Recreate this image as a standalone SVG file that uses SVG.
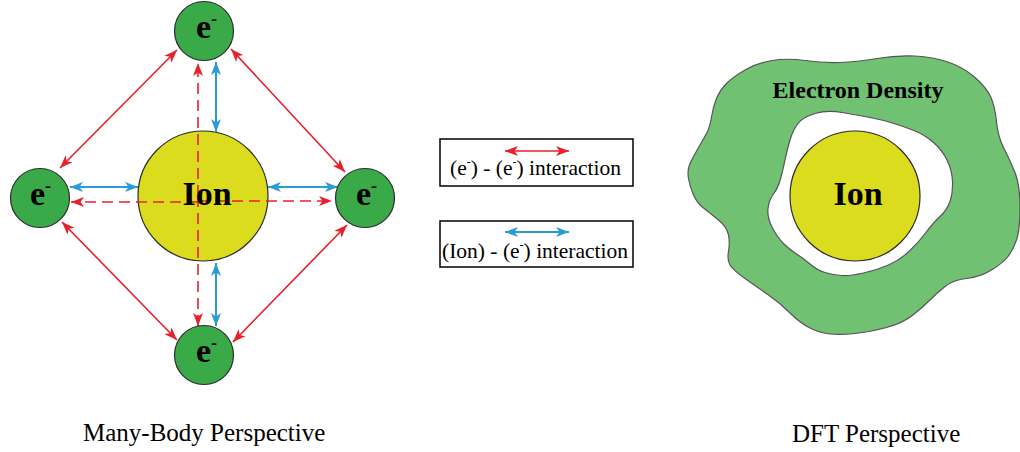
<svg xmlns="http://www.w3.org/2000/svg" width="1020" height="452" viewBox="0 0 1020 452">
<style>
.el{fill:#3aaa48;stroke:#2b2b2b;stroke-width:1.2}
.ion{fill:#dcdc1e;stroke:#2b2b2b;stroke-width:1.2}
.bt{font-family:"Liberation Serif","Times New Roman",serif;font-weight:bold;fill:#000}
.rt{font-family:"Liberation Serif","Times New Roman",serif;fill:#000}
.red{stroke:#e8202a;stroke-width:1.6;fill:none;marker-start:url(#ar);marker-end:url(#ar)}
.redd{stroke:#e8202a;stroke-width:1.6;fill:none;stroke-dasharray:11 6;marker-end:url(#ar)}
.blue{stroke:#2a9ad8;stroke-width:2;fill:none;marker-start:url(#ab);marker-end:url(#ab)}
.box{fill:#fff;stroke:#000;stroke-width:1.5}
</style>
<defs>
<marker id="ar" viewBox="0 0 13 10" refX="13" refY="5" markerWidth="13" markerHeight="10" markerUnits="userSpaceOnUse" orient="auto-start-reverse"><path d="M0,0 L13,5 L0,10 L3.5,5 Z" fill="#e8202a"/></marker>
<marker id="ab" viewBox="0 0 13 10" refX="13" refY="5" markerWidth="13" markerHeight="10" markerUnits="userSpaceOnUse" orient="auto-start-reverse"><path d="M0,0 L13,5 L0,10 L3.5,5 Z" fill="#2a9ad8"/></marker>
</defs>
<rect width="1020" height="452" fill="#fff"/>

<g id="ion-left">
<circle class="ion" cx="203" cy="196" r="65"/>
</g>

<g id="connectors">
<line class="red" x1="177" y1="50" x2="60" y2="168"/>
<line class="red" x1="231" y1="49" x2="345" y2="172"/>
<line class="red" x1="62" y1="222" x2="177" y2="340"/>
<line class="red" x1="347" y1="225" x2="233" y2="342"/>
<line class="redd" x1="198" y1="196" x2="198" y2="63"/>
<line class="redd" x1="198" y1="196" x2="198" y2="326"/>
<line class="redd" x1="198" y1="202" x2="71" y2="202"/>
<line class="redd" x1="198" y1="201" x2="332" y2="201"/>
<line class="blue" x1="216" y1="62" x2="216" y2="132"/>
<line class="blue" x1="216" y1="263" x2="216" y2="326"/>
<line class="blue" x1="70" y1="187" x2="138" y2="187"/>
<line class="blue" x1="268" y1="187" x2="338" y2="187"/>
</g>

<g id="ion-left-label">
<text class="bt" x="207" y="205" font-size="34" text-anchor="middle">Ion</text>
</g>

<g id="e-top">
<circle class="el" cx="204" cy="31" r="29.5"/>
<text class="bt" x="196" y="38" font-size="34">e<tspan font-size="18" dy="-13">-</tspan></text>
</g>
<g id="e-left">
<circle class="el" cx="40" cy="198" r="29.5"/>
<text class="bt" x="30" y="205" font-size="34">e<tspan font-size="18" dy="-13">-</tspan></text>
</g>
<g id="e-right">
<circle class="el" cx="365" cy="198" r="29.5"/>
<text class="bt" x="356" y="205" font-size="34">e<tspan font-size="18" dy="-13">-</tspan></text>
</g>
<g id="e-bottom">
<circle class="el" cx="204" cy="355" r="29.5"/>
<text class="bt" x="196" y="362" font-size="34">e<tspan font-size="18" dy="-13">-</tspan></text>
</g>

<g id="legend-ee">
<rect class="box" x="440" y="139" width="193" height="47"/>
<line class="red" x1="505" y1="151" x2="569" y2="151"/>
<text class="rt" x="450" y="175" font-size="21.5">(e<tspan font-size="12" dy="-9">-</tspan><tspan dy="9">) - (e</tspan><tspan font-size="12" dy="-9">-</tspan><tspan dy="9">) interaction</tspan></text>
</g>
<g id="legend-ie">
<rect class="box" x="440" y="221" width="193" height="46"/>
<line class="blue" x1="505" y1="232" x2="569" y2="232"/>
<text class="rt" x="442" y="258" font-size="21.5">(Ion) - (e<tspan font-size="12" dy="-9">-</tspan><tspan dy="9">) interaction</tspan></text>
</g>

<g id="density">
<path fill="#70c172" stroke="#555" stroke-width="1.2" fill-rule="evenodd" d="M726.5,83.5 Q733,77 745,70 Q757,63 772,60.5 Q787,58 805,60.5 Q823,63 840,62.5 Q857,62 877,58.5 Q897,55 915,56 Q933,57 948,62 Q963,67 975,77.5 Q987,88 991,97.5 Q995,107 996.5,122 Q998,137 1004,148.5 Q1010,160 1015,172.5 Q1020,185 1020,207.5 Q1020,230 1016.5,240 Q1013,250 1008,256.5 Q1003,263 991.5,270 Q980,277 966.5,278.5 Q953,280 945,286.5 Q937,293 930,300 Q923,307 913,315 Q903,323 886.5,327.5 Q870,332 855,333.5 Q840,335 830,334 Q820,333 810,328 Q800,323 790,313 Q780,303 768.5,295 Q757,287 745,278.5 Q733,270 730,265 Q727,260 728.5,251.5 Q730,243 728.5,235 Q727,227 718.5,220 Q710,213 703.5,208 Q697,203 693.5,195 Q690,187 688.5,178.5 Q687,170 690,163.5 Q693,157 698,148.5 Q703,140 706.5,133.5 Q710,127 711.5,117 Q713,107 716.5,98.5 Q720,90 726.5,83.5 Z M798,123.5 Q803,117 815,113.5 Q827,110 842,112.5 Q857,115 870,117.5 Q883,120 894,123.5 Q905,127 915,131 Q925,135 933.5,142.5 Q942,150 947,160 Q952,170 952.5,181.5 Q953,193 950,201.5 Q947,210 940,216.5 Q933,223 925.5,233 Q918,243 909,251.5 Q900,260 888.5,265 Q877,270 863.5,273 Q850,276 841.5,275.5 Q833,275 825,272.5 Q817,270 810,264 Q803,258 796.5,254 Q790,250 783.5,243.5 Q777,237 772,227 Q767,217 768,208.5 Q769,200 773.5,194 Q778,188 780.5,179 Q783,170 785,160 Q787,150 790,140 Q793,130 798,123.5 Z"/>
<text class="bt" x="858" y="98" font-size="24" text-anchor="middle">Electron Density</text>
</g>
<g id="ion-right">
<circle class="ion" cx="855" cy="196" r="65"/>
<text class="bt" x="858" y="205" font-size="34" text-anchor="middle">Ion</text>
</g>

<g id="captions">
<text class="rt" x="83" y="441" font-size="25">Many-Body Perspective</text>
<text class="rt" x="792" y="442" font-size="25">DFT Perspective</text>
</g>
</svg>
